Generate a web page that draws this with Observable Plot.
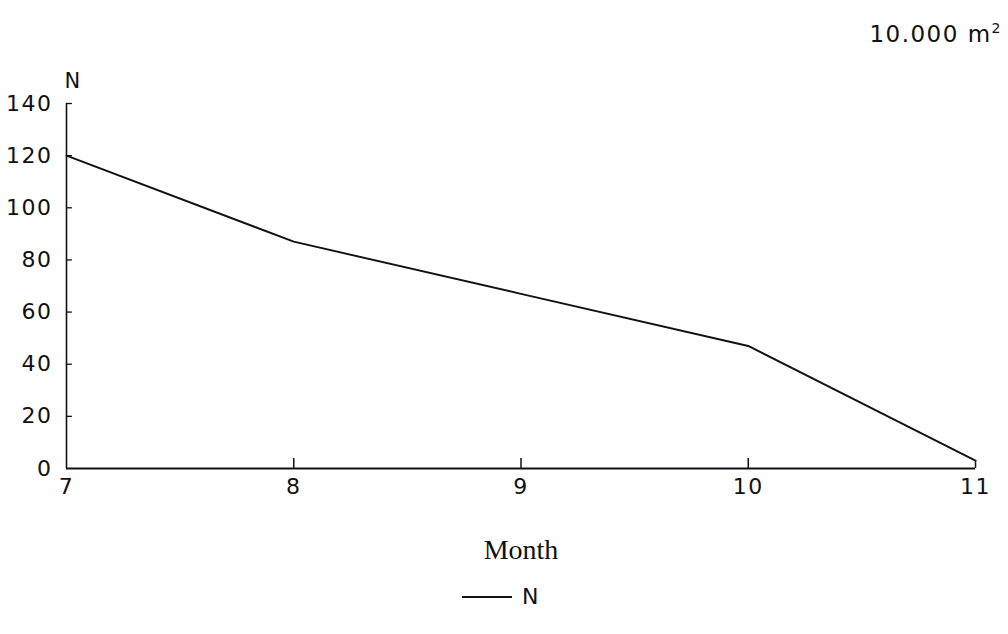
<!DOCTYPE html>
<html>
<head>
<meta charset="utf-8">
<script src="https://cdn.jsdelivr.net/npm/d3@7"></script>
<script src="https://cdn.jsdelivr.net/npm/@observablehq/plot@0.6"></script>
<style>
  html, body { margin: 0; padding: 0; background: #fff; }
  #wrap { position: relative; width: 1008px; height: 634px; overflow: hidden; }
  #title { position: absolute; right: 6px; top: 20px; font-family: "DejaVu Sans", sans-serif; font-size: 23px; color: #111; letter-spacing: 1.5px; }
  #title sup { font-size: 14px; }
  #legend { position: absolute; left: 462px; top: 584px; font-family: "DejaVu Sans", sans-serif; font-size: 22px; color: #111; display: flex; align-items: center; }
  #legend .sw { display: inline-block; width: 50px; height: 0; border-top: 2px solid #111; margin-right: 10px; }
  #chart svg g[aria-label="y-axis tick label"] text,
  #chart svg g[aria-label="x-axis tick label"] text { letter-spacing: 1.5px; }
</style>
</head>
<body>
<div id="wrap">
  <div id="chart"></div>
  <div id="title">10.000 m<sup>2</sup></div>
  <div id="legend"><span class="sw"></span><span>N</span></div>
</div>
<script>
const months = [7, 8, 9, 10, 11];
const values = [120, 87, 67, 47, 3];
const yTicks = [0, 20, 40, 60, 80, 100, 120, 140];
const xTicks = [7, 8, 9, 10, 11];
const seriesName = "N";

const data = months.map((m, i) => ({month: m, value: values[i]}));

const chart = Plot.plot({
  width: 1008,
  height: 634,
  marginLeft: 66,
  marginRight: 33,
  marginTop: 103,
  marginBottom: 166,
  style: {fontFamily: "DejaVu Sans, sans-serif", fontSize: "22px", color: "#111", background: "#fff"},
  x: {domain: [7, 11]},
  y: {domain: [0, 140]},
  marks: [
    Plot.axisY({ticks: yTicks, tickSize: 0, tickPadding: 14, label: null, fontSize: 22}),
    Plot.axisX({ticks: xTicks, tickFormat: d3.format("d"), tickSize: 0, tickPadding: 10, label: "Month", labelAnchor: "center", labelArrow: "none", labelOffset: 90, fontSize: 22}),
    Plot.text([seriesName], {frameAnchor: "top-left", dx: -2, dy: -30, fontSize: 21}),
    Plot.ruleX([7], {y1: 0, y2: 140, stroke: "#111", strokeWidth: 1.6}),
    Plot.ruleY([0], {x1: 7, x2: 11, stroke: "#111", strokeWidth: 1.8}),
    Plot.ruleY(yTicks.slice(1), {x1: 7, x2: 7.026, stroke: "#111", strokeWidth: 1.3}),
    Plot.ruleX(xTicks.slice(1, 4), {y1: 0, y2: 3.8, stroke: "#111", strokeWidth: 1.5}),
    Plot.ruleX([11], {y1: 0, y2: values[values.length - 1], stroke: "#111", strokeWidth: 1.5}),
    Plot.line(data, {x: "month", y: "value", stroke: "#111", strokeWidth: 1.9})
  ]
});
chart.querySelectorAll("text").forEach(t => {
  if (t.textContent === "Month") {
    t.style.fontFamily = "Liberation Serif, serif";
    t.style.fontSize = "28px";
  }
});
document.getElementById("chart").appendChild(chart);
</script>
</body>
</html>
